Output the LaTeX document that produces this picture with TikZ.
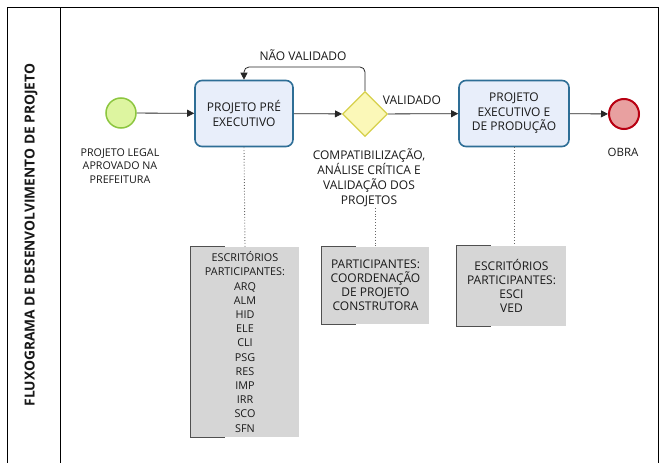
\documentclass[tikz,border=0pt]{standalone}
\usepackage{fontspec}
\setmainfont{Open Sans}
\usetikzlibrary{shapes.geometric,arrows.meta,calc}
\definecolor{taskfill}{HTML}{E8EEFA}
\definecolor{taskdraw}{HTML}{2E6E96}
\definecolor{startfill}{HTML}{DDF5A0}
\definecolor{startdraw}{HTML}{8CC63F}
\definecolor{endfill}{HTML}{E8A0A0}
\definecolor{enddraw}{HTML}{B80012}
\definecolor{gwfill}{HTML}{FBF8B8}
\definecolor{gwdraw}{HTML}{D6D04A}
\definecolor{notefill}{HTML}{D6D6D6}
\definecolor{notebr}{HTML}{505050}
\begin{document}
\begin{tikzpicture}[x=1pt,y=-1pt,
  every node/.style={font=\fontsize{12}{14.5}\selectfont, text=black!90},
  task/.style={draw=taskdraw, fill=taskfill, line width=1.6pt, rounded corners=7pt, align=center, inner sep=2pt, font=\fontsize{12}{14.5}\selectfont},
  startev/.style={circle, draw=startdraw, fill=startfill, line width=1.5pt, minimum size=30pt, inner sep=0pt},
  endev/.style={circle, draw=enddraw, fill=endfill, line width=2pt, minimum size=30pt, inner sep=0pt},
  gw/.style={diamond, draw=gwdraw, fill=gwfill, line width=1.2pt, minimum width=45pt, minimum height=45pt, inner sep=0pt},
  lbl/.style={align=center, inner sep=1pt},
  note/.style={fill=notefill, align=center, inner sep=0pt},
  flow/.style={draw=black!85, line width=0.8pt, -{Triangle[length=7pt,width=7pt]}},
  assoc/.style={draw=black!60, line width=0.9pt, dotted},
  bracket/.style={draw=notebr, line width=1.2pt}
]
\useasboundingbox (0,0) rectangle (664,463);
% frame
\draw[line width=0.8pt] (7,463) -- (7,7) -- (658,7) -- (658,463);
\draw[line width=0.8pt] (60,7) -- (60,463);
\node[rotate=90, font=\fontsize{13.8}{16}\selectfont\bfseries] (title) at (31,235) {FLUXOGRAMA DE DESENVOLVIMENTO DE PROJETO};

% flow elements
\node[startev] (s) at (121,113) {};
\node[task, minimum width=98pt, minimum height=66pt] (t1) at (244,113.5) {PROJETO PRÉ\\EXECUTIVO};
\node[gw] (g) at (365,114) {};
\node[task, minimum width=110pt, minimum height=66pt] (t2) at (514,113.5) {PROJETO\\EXECUTIVO E\\DE PRODUÇÃO};
\node[endev] (e) at (624,114) {};

% labels
\node[lbl, font=\fontsize{10.7}{13.5}\selectfont] (ls) at (120,166) {PROJETO LEGAL\\APROVADO NA\\PREFEITURA};
\node[lbl, font=\fontsize{12}{15}\selectfont] (lg) at (369,177.5) {COMPATIBILIZAÇÃO,\\ANÁLISE CRÍTICA E\\VALIDAÇÃO DOS\\PROJETOS};
\node[lbl, font=\fontsize{11.5}{14}\selectfont] (le) at (623,152) {OBRA};
\node[lbl] (lv) at (412,100) {VALIDADO};
\node[lbl] (lnv) at (303,55) {NÃO VALIDADO};

% flows
\draw[flow] (s) -- (t1);
\draw[flow] (t1) -- (g);
\draw[flow] (g) -- (t2);
\draw[flow] (t2) -- (e);
\coordinate (lp) at (244,67);
\draw[flow, rounded corners=5pt] (g.north) |- (lp) -- (t1.north);

% notes
\node[note, minimum width=108pt, minimum height=190pt, font=\fontsize{10.8}{14.2}\selectfont] (n1) at (245,342) {ESCRITÓRIOS\\PARTICIPANTES:\\ARQ\\ALM\\HID\\ELE\\CLI\\PSG\\RES\\IMP\\IRR\\SCO\\SFN};
\node[note, minimum width=107pt, minimum height=77pt, font=\fontsize{12}{14}\selectfont] (n2) at (375.5,285.5) {PARTICIPANTES:\\COORDENAÇÃO\\DE PROJETO\\CONSTRUTORA};
\node[note, minimum width=109pt, minimum height=80pt, font=\fontsize{12}{13.8}\selectfont] (n3) at (511.5,286) {ESCRITÓRIOS\\PARTICIPANTES:\\ESCI\\VED};
\foreach \n in {n1,n2,n3}{
  \draw[bracket] ([xshift=34pt]\n.north west) -- (\n.north west) -- (\n.south west) -- ([xshift=34pt]\n.south west);
}

% associations
\draw[assoc] (t1.south) -- (n1.north);
\draw[assoc] (n2.north |- lg.south) -- (n2.north);
\draw[assoc] (t2.south) -- (t2.south |- n3.north);
\end{tikzpicture}
\end{document}
